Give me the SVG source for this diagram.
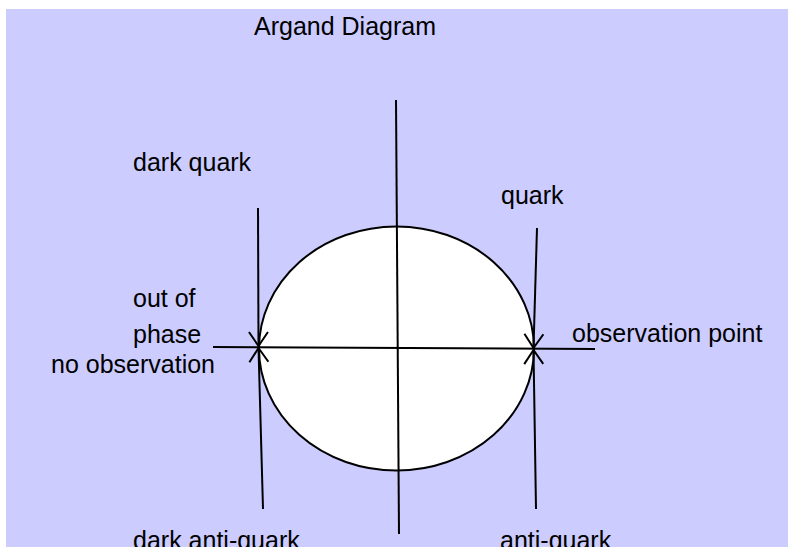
<svg xmlns="http://www.w3.org/2000/svg" width="788" height="547" viewBox="0 0 788 547">
<style>
.t{font-family:"Liberation Sans",Arial,sans-serif;font-size:25px;fill:#000}
.ln{stroke:#000;stroke-width:2;fill:none}
</style>
<defs>
<marker id="open" markerUnits="userSpaceOnUse" markerWidth="20" markerHeight="24" refX="0" refY="0" viewBox="-16 -12 20 24" orient="auto" overflow="visible">
<path d="M-14,-9.5 L0,0 L-14,9.5" fill="none" stroke="#000" stroke-width="2"/>
</marker>
</defs>
<rect x="6" y="9" width="782" height="538" fill="#CCCCFF"/>
<g id="circle">
<ellipse cx="396.5" cy="348.5" rx="137.5" ry="122" fill="#FFFFFF" stroke="#000" stroke-width="2"/>
</g>
<g id="connectors">
<line class="ln" x1="396" y1="100" x2="399" y2="534"/>
<line class="ln" x1="213" y1="347" x2="595" y2="349"/>
<line class="ln" x1="258" y1="208" x2="258.5" y2="346" marker-end="url(#open)"/>
<line class="ln" x1="263" y1="509" x2="258.5" y2="348" marker-end="url(#open)"/>
<line class="ln" x1="537" y1="228" x2="533.5" y2="348" marker-end="url(#open)"/>
<line class="ln" x1="536" y1="509" x2="533.5" y2="350" marker-end="url(#open)"/>
</g>
<g id="title"><text class="t" x="254" y="35">Argand Diagram</text></g>
<g id="dark-quark"><text class="t" x="133" y="171">dark quark</text></g>
<g id="quark"><text class="t" x="501" y="204">quark</text></g>
<g id="out-of-phase">
<text class="t" x="133" y="307">out of</text>
<text class="t" x="133" y="343">phase</text>
<text class="t" x="51" y="373">no observation</text>
</g>
<g id="observation-point"><text class="t" x="572" y="342">observation point</text></g>
<g id="dark-anti-quark"><text class="t" x="133" y="549">dark anti-quark</text></g>
<g id="anti-quark"><text class="t" x="500" y="549">anti-quark</text></g>
</svg>
